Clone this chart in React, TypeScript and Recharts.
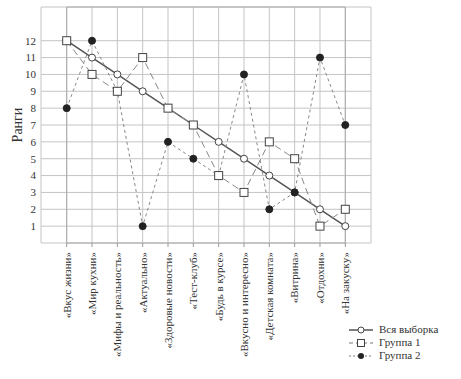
import React from 'react';
import { LineChart, Line, XAxis, YAxis, CartesianGrid, ReferenceArea } from 'recharts';

const categories = ['«Вкус жизни»', '«Мир кухни»', '«Мифы и реальность»', '«Актуально»', '«Здоровые новости»', '«Тест-клуб»', '«Будь в курсе»', '«Вкусно и интересно»', '«Детская комната»', '«Витрина»', '«Отдохни»', '«На закуску»'];
const allSample = [12, 11, 10, 9, 8, 7, 6, 5, 4, 3, 2, 1];
const group1 = [12, 10, 9, 11, 8, 7, 4, 3, 6, 5, 1, 2];
const group2 = [8, 12, 9, 1, 6, 5, 4, 10, 2, 3, 11, 7];
const yTicks = [1, 2, 3, 4, 5, 6, 7, 8, 9, 10, 11, 12];
const seriesNames = ['Вся выборка', 'Группа 1', 'Группа 2'];
const yTitle = 'Ранги';

const data = categories.map((c, i) => ({ name: c, all: allSample[i], g1: group1[i], g2: group2[i] }));

const FONT = '"Liberation Serif", "DejaVu Serif", serif';

const XTick = (props: any) => {
  const { x, y, payload } = props;
  return (
    <text x={x} y={y + 3} transform={`rotate(-90, ${x}, ${y + 3})`} textAnchor="end" dy="0.35em" fontSize={11} fontFamily={FONT} fill="#333">
      {payload.value}
    </text>
  );
};

const CircleDot = (props: any) => {
  const { cx, cy, index } = props;
  return <circle key={`a${index}`} cx={cx} cy={cy} r={3.5} fill="#fff" stroke="#444" strokeWidth={1} />;
};
const SquareDot = (props: any) => {
  const { cx, cy, index } = props;
  return <rect key={`s${index}`} x={cx - 4} y={cy - 4} width={8} height={8} fill="#fff" stroke="#444" strokeWidth={1} />;
};
const FilledDot = (props: any) => {
  const { cx, cy, index } = props;
  return <circle key={`f${index}`} cx={cx} cy={cy} r={3.5} fill="#222" stroke="#222" strokeWidth={1} />;
};

const LegendRow = ({ kind, label }: { kind: number; label: string }) => (
  <div style={{ display: 'flex', alignItems: 'center', height: 13 }}>
    <svg width={26} height={12}>
      <line x1={1} y1={6} x2={25} y2={6} stroke={kind === 0 ? '#555' : '#777'} strokeWidth={kind === 0 ? 1.5 : 1} strokeDasharray={kind === 0 ? undefined : kind === 1 ? '4 3' : '2 2'} />
      {kind === 0 && <circle cx={13} cy={6} r={3} fill="#fff" stroke="#444" />}
      {kind === 1 && <rect x={9.5} y={2.5} width={7} height={7} fill="#fff" stroke="#444" />}
      {kind === 2 && <circle cx={13} cy={6} r={3} fill="#222" />}
    </svg>
    <span style={{ marginLeft: 5, fontSize: 11, fontFamily: FONT, color: '#333', lineHeight: '13px' }}>{label}</span>
  </div>
);

export default function App() {
  return (
    <div style={{ position: 'absolute', left: 0, top: 0, width: 461, height: 379, background: '#fff' }}>
      <LineChart width={461} height={379} data={data} margin={{ top: 7, right: 90, left: 0, bottom: 6 }}>
        <CartesianGrid stroke="#c4c4c4" strokeWidth={1} />
        <ReferenceArea y1={0} y2={14} fill="none" stroke="#aaa" strokeWidth={1} ifOverflow="visible" />
        <XAxis dataKey="name" height={130} padding={{ left: 25.7, right: 25.7 }} tick={<XTick />} tickSize={4} tickLine={{ stroke: '#999' }} axisLine={false} interval={0} />
        <YAxis domain={[0, 14]} ticks={yTicks} interval={0} width={41} tickSize={0} tickMargin={5} axisLine={false} tick={{ fontSize: 11, fontFamily: FONT, fill: '#333' }}
          label={{ value: yTitle, angle: -90, position: 'center', dx: -3, style: { fontSize: 14, fontFamily: FONT, fill: '#333' } }} />
        <Line dataKey="all" stroke="#555" strokeWidth={1.5} dot={<CircleDot />} isAnimationActive={false} />
        <Line dataKey="g2" stroke="#888" strokeWidth={1} strokeDasharray="3 3" dot={<FilledDot />} isAnimationActive={false} />
        <Line dataKey="g1" stroke="#888" strokeWidth={1} strokeDasharray="7 4" dot={<SquareDot />} isAnimationActive={false} />
      </LineChart>
      <div style={{ position: 'absolute', left: 348, top: 323 }}>
        {seriesNames.map((n, i) => <LegendRow key={n} kind={i} label={n} />)}
      </div>
    </div>
  );
}
